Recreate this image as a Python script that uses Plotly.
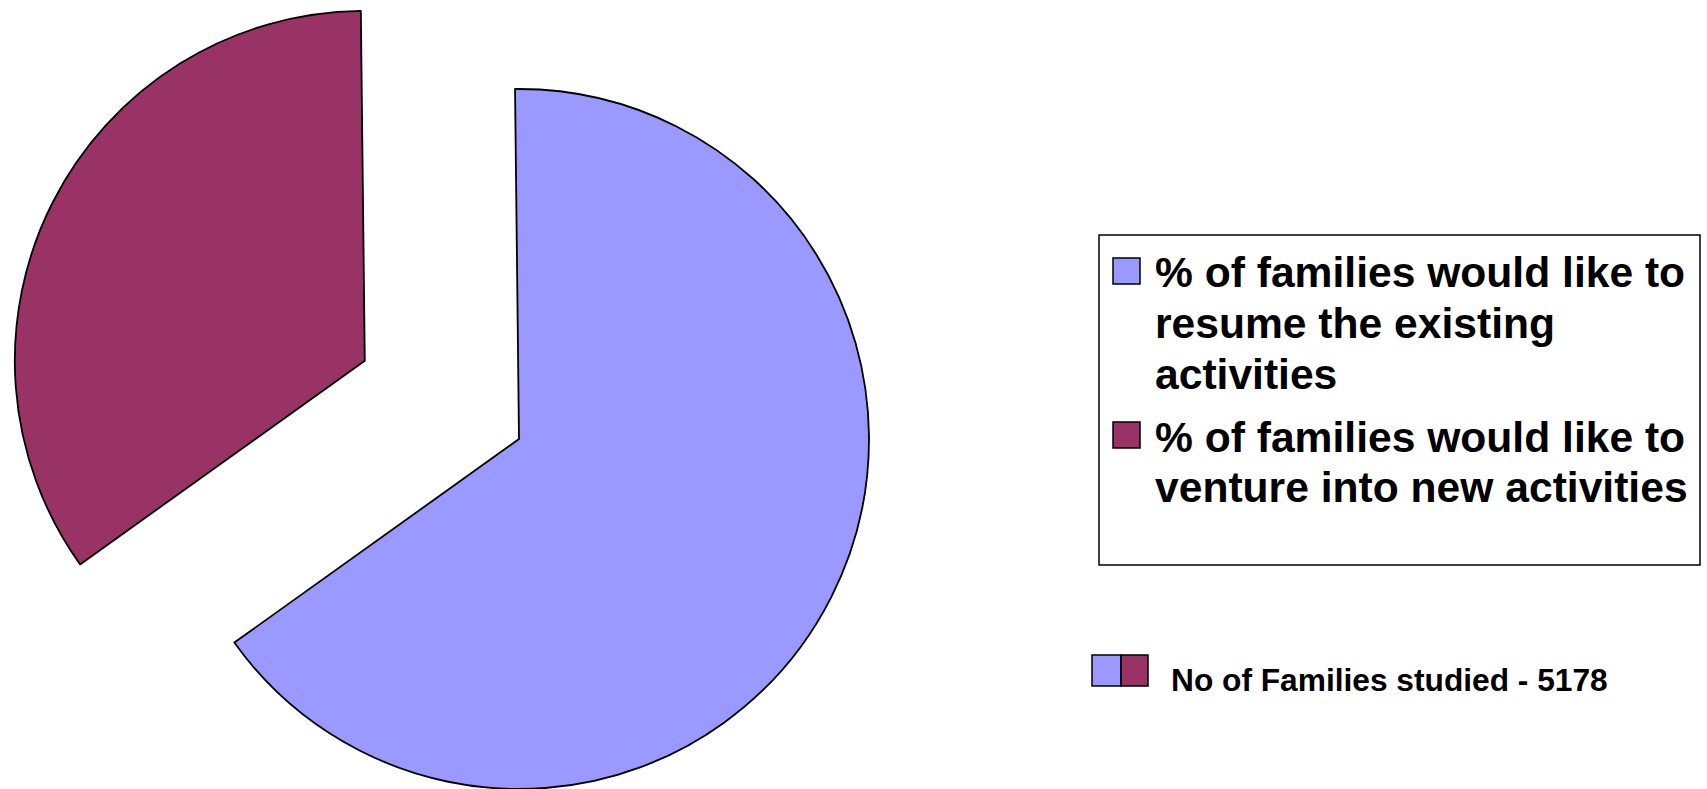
import math
import textwrap
import plotly.graph_objects as go

# ---- data ----
labels = ["% of families would like to resume the existing activities",
          "% of families would like to venture into new activities"]
values = [65.3, 34.7]
colors = ["#9999FF", "#993366"]
pulls = [0.0, 0.494]
note_text = "No of Families studied - 5178"

# ---- layout constants (pixels) ----
W, H = 1707, 789
R = 350
CX, CY = 519, 439
ROT = -0.65
FONT = "Liberation Sans, Arial, sans-serif"


def fx(x):
    return x / W


def fy(y):
    return 1 - y / H


def clamp(v):
    return min(1.0, max(0.0, v))


fig = go.Figure()
total = sum(values)
start = ROT
for i, (v, p) in enumerate(zip(values, pulls)):
    span = 360.0 * v / total
    mid = math.radians(start + span / 2)
    cx = CX + R * p * math.sin(mid)
    cy = CY - R * p * math.cos(mid)
    start += span
    slice_colors = [c if j == i else "rgba(0,0,0,0)" for j, c in enumerate(colors)]
    widths = [1.8 if j == i else 0 for j in range(len(values))]
    fig.add_trace(go.Pie(
        labels=labels, values=values, sort=False, direction="clockwise",
        rotation=ROT, textinfo="none", showlegend=False,
        marker=dict(colors=slice_colors, line=dict(color="black", width=widths)),
        domain=dict(x=[clamp(fx(cx - R)), clamp(fx(cx + R))],
                    y=[clamp(fy(cy + R)), clamp(fy(cy - R))]),
        hovertemplate="%{label}: %{value}%<extra></extra>",
    ))

shapes = []
annotations = []

# legend box
shapes.append(dict(type="rect", xref="paper", yref="paper",
                   x0=fx(1099), x1=fx(1700), y0=fy(565), y1=fy(235),
                   line=dict(color="black", width=1.5), fillcolor="white", layer="below"))

LFS = 42.6
line_h = 50.5
gap = 63
bl = 287
for lab, col in zip(labels, colors):
    lines = textwrap.wrap(lab, 27)
    shapes.append(dict(type="rect", xref="paper", yref="paper",
                       x0=fx(1113), x1=fx(1140), y0=fy(bl - 3), y1=fy(bl - 29),
                       line=dict(color="black", width=1.5), fillcolor=col))
    for k, ln in enumerate(lines):
        b = bl + k * line_h
        annotations.append(dict(xref="paper", yref="paper", x=fx(1153), y=fy(b - 14.5),
                                xanchor="left", yanchor="middle", showarrow=False,
                                text=ln, font=dict(family=FONT, size=LFS, color="black", weight="bold")))
    bl = bl + (len(lines) - 1) * line_h + gap

# footnote icon and text
shapes.append(dict(type="rect", xref="paper", yref="paper",
                   x0=fx(1092), x1=fx(1121), y0=fy(686), y1=fy(655),
                   line=dict(color="black", width=1.5), fillcolor=colors[0]))
shapes.append(dict(type="rect", xref="paper", yref="paper",
                   x0=fx(1121), x1=fx(1148), y0=fy(686), y1=fy(655),
                   line=dict(color="black", width=1.5), fillcolor=colors[1]))
annotations.append(dict(xref="paper", yref="paper", x=fx(1169), y=fy(679.5),
                        xanchor="left", yanchor="middle", showarrow=False,
                        text=note_text, font=dict(family=FONT, size=31.7, color="black", weight="bold")))

fig.update_layout(
    width=W, height=H, autosize=False,
    margin=dict(l=0, r=0, t=0, b=0),
    paper_bgcolor="white", plot_bgcolor="white",
    showlegend=False,
    shapes=shapes, annotations=annotations,
)

fig.write_html("out.html", config={"displayModeBar": False},
               post_script="document.body.style.margin='0';document.body.style.overflow='hidden';")
